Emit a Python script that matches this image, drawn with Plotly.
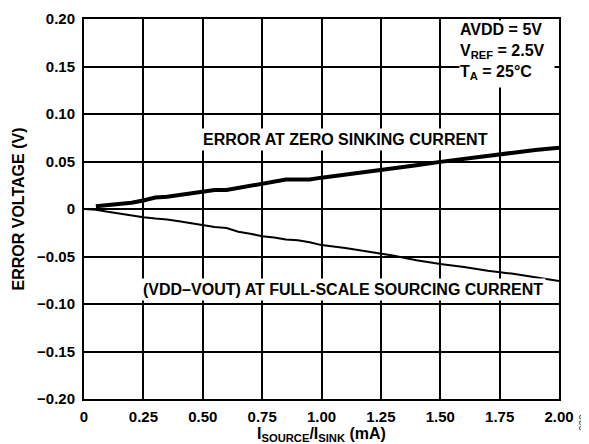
import plotly.graph_objects as go

# Error at zero sinking current (thick trace)
x_sink = [0.05, 0.10, 0.15, 0.20, 0.25, 0.30, 0.35, 0.40, 0.45, 0.50, 0.55, 0.60, 0.65, 0.70,
          0.75, 0.80, 0.85, 0.90, 0.95, 1.00, 1.10, 1.20, 1.30, 1.40, 1.50, 1.60, 1.70, 1.80,
          1.90, 2.00]
y_sink = [0.003, 0.004, 0.0045, 0.0065, 0.009, 0.012, 0.013, 0.015, 0.017, 0.019, 0.020, 0.020,
          0.022, 0.025, 0.026, 0.028, 0.031, 0.031, 0.031, 0.033, 0.036, 0.039, 0.042, 0.046,
          0.0496, 0.053, 0.056, 0.059, 0.062, 0.0644]

# (VDD-VOUT) at full-scale sourcing current (thin trace)
x_src = [0, 0.05, 0.10, 0.15, 0.20, 0.25, 0.30, 0.35, 0.40, 0.45, 0.50, 0.55, 0.60, 0.65, 0.70,
         0.75, 0.80, 0.85, 0.90, 0.95, 1.00, 1.10, 1.20, 1.30, 1.40, 1.50, 1.60, 1.70, 1.80,
         1.90, 2.00]
y_src = [0, -0.0007, -0.003, -0.005, -0.007, -0.0086, -0.010, -0.011, -0.013, -0.015, -0.017,
         -0.019, -0.020, -0.024, -0.026, -0.0286, -0.030, -0.032, -0.033, -0.035, -0.038, -0.041,
         -0.045, -0.049, -0.054, -0.058, -0.061, -0.065, -0.068, -0.072, -0.0757]

x_ticks = [0, 0.25, 0.5, 0.75, 1.0, 1.25, 1.5, 1.75, 2.0]
x_labels = ["0", "0.25", "0.50", "0.75", "1.00", "1.25", "1.50", "1.75", "2.00"]
y_ticks = [0.20, 0.15, 0.10, 0.05, 0, -0.05, -0.10, -0.15, -0.20]
y_labels = ["0.20", "0.15", "0.10", "0.05", "0", "\u22120.05", "\u22120.10", "\u22120.15", "\u22120.20"]

FONT = "Liberation Sans, Arial, sans-serif"
tick_font = dict(family=FONT, size=15, color="black", weight="bold")
bold = dict(family=FONT, size=16, color="black", weight="bold")

fig = go.Figure()
fig.add_trace(go.Scatter(x=x_sink, y=y_sink, mode="lines",
                         line=dict(color="black", width=4), showlegend=False))
fig.add_trace(go.Scatter(x=x_src, y=y_src, mode="lines",
                         line=dict(color="black", width=2), showlegend=False))

fig.update_layout(
    width=589, height=444,
    margin=dict(l=76, r=38, t=11, b=53),
    paper_bgcolor="white", plot_bgcolor="white",
    font=dict(family=FONT, color="black"),
    xaxis=dict(range=[0, 2], tickvals=x_ticks, ticktext=x_labels, tickfont=tick_font,
               showgrid=True, gridcolor="black", gridwidth=1.5, zeroline=False,
               showline=True, linecolor="black", linewidth=2, mirror=True, ticks="",
               automargin=False, ticklabelstandoff=3,
               title=dict(text="I<sub>SOURCE</sub>/I<sub>SINK</sub> (mA)", font=bold, standoff=0)),
    yaxis=dict(range=[-0.2, 0.2], tickvals=y_ticks, ticktext=y_labels, tickfont=tick_font,
               showgrid=True, gridcolor="black", gridwidth=1.5, zeroline=False,
               showline=True, linecolor="black", linewidth=2, mirror=True, ticks="",
               automargin=False, ticklabelstandoff=4,
               title=dict(text="ERROR VOLTAGE (V)", font=bold, standoff=8)),
)

fig.add_annotation(x=1.101, y=0.0728, text="ERROR AT ZERO SINKING CURRENT", showarrow=False,
                   font=bold, bgcolor="white", xref="x", yref="y", borderpad=2)
fig.add_annotation(x=1.09, y=-0.0848, text="(VDD\u2013VOUT) AT FULL-SCALE SOURCING CURRENT",
                   showarrow=False, font=bold, bgcolor="white", xref="x", yref="y", borderpad=2)
fig.add_annotation(x=2.0, y=0.2, xanchor="right", yanchor="top", align="left", valign="top",
                   xshift=-4, yshift=-1,
                   text="AVDD = 5V<br>V<sub>REF</sub> = 2.5V<br>T<sub>A</sub> = 25\u00b0C",
                   showarrow=False, font=dict(family=FONT, size=16, color="black", weight="bold"),
                   bgcolor="white", width=94, height=66, xref="x", yref="y", borderpad=0)
fig.add_annotation(x=1.0, y=0.0, xref="paper", yref="paper", xshift=32, yshift=-34,
                   text="022", textangle=-90, showarrow=False,
                   font=dict(family=FONT, size=10, color="#333333"))

fig.write_html("out.html")
